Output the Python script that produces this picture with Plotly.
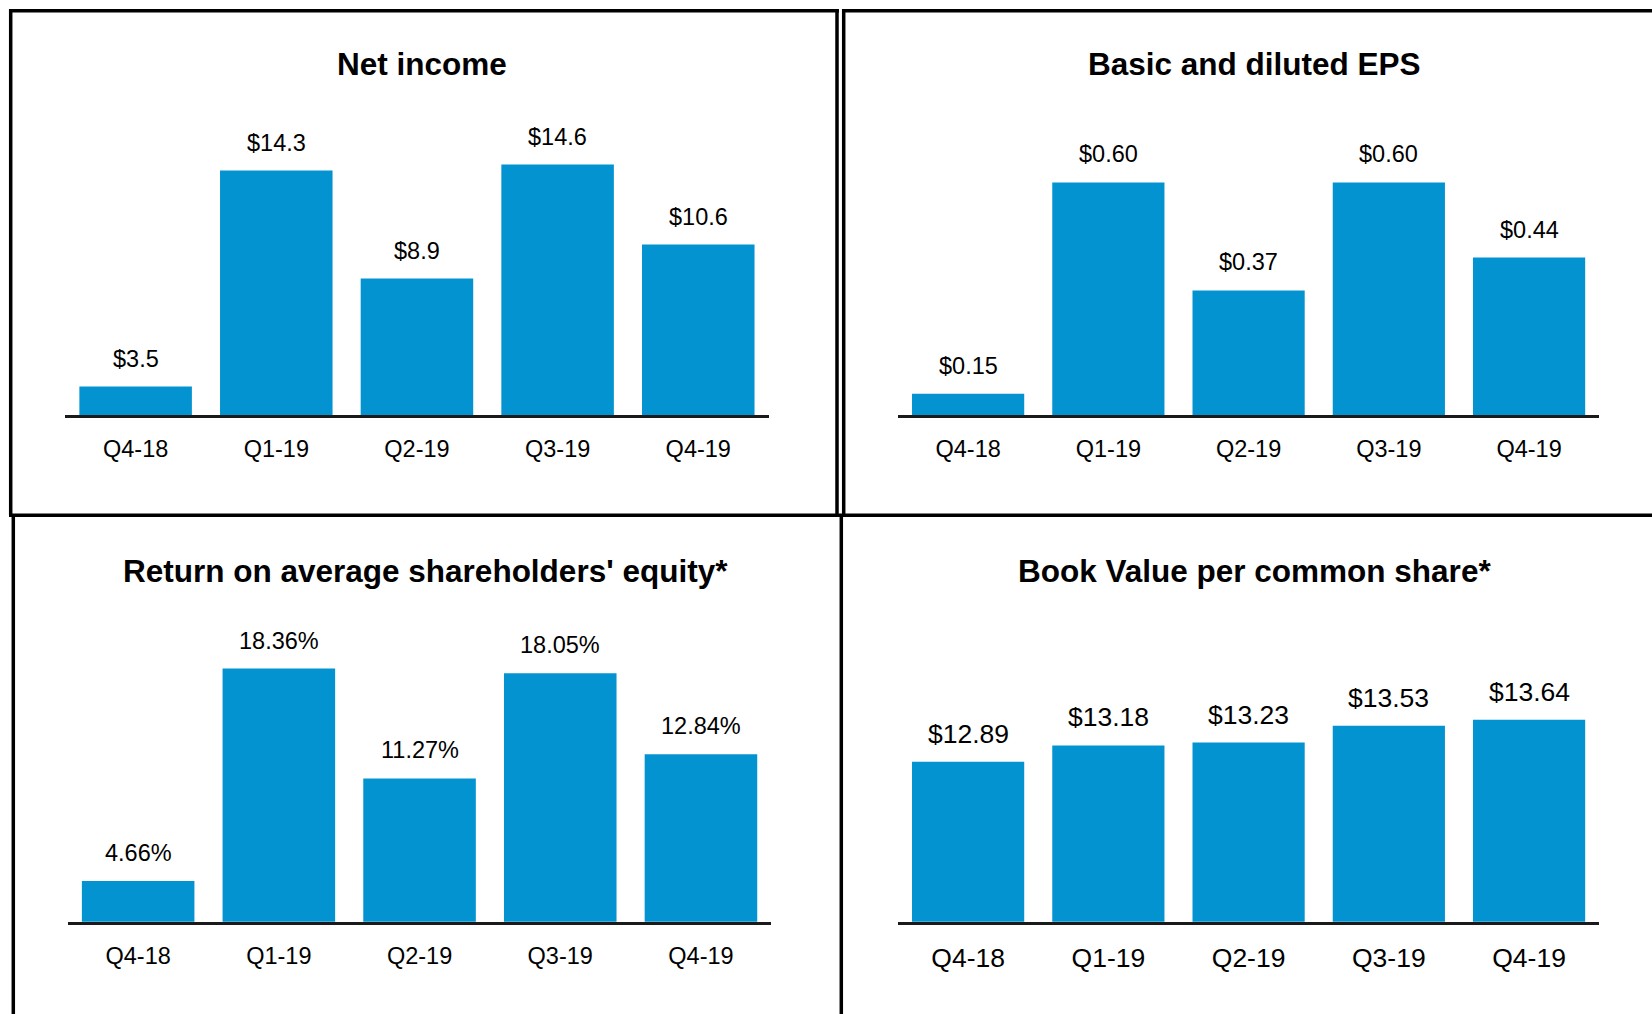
import plotly.graph_objects as go

W, H = 1652, 1014

# ---- data ----
categories = ["Q4-18", "Q1-19", "Q2-19", "Q3-19", "Q4-19"]
net_income = [3.5, 14.3, 8.9, 14.6, 10.6]
eps = [0.15, 0.60, 0.37, 0.60, 0.44]
roe = [4.66, 18.36, 11.27, 18.05, 12.84]
book_value = [12.89, 13.18, 13.23, 13.53, 13.64]
titles = ["Net income", "Basic and diluted EPS",
          "Return on average shareholders' equity*", "Book Value per common share*"]
formats = ["${:.1f}", "${:.2f}", "{:.2f}%", "${:.2f}"]
series = [net_income, eps, roe, book_value]

# ---- layout (pixel geometry of each panel) ----
FONT = "Liberation Sans, Arial, sans-serif"
BAR = "#0393D0"
geo = [
    dict(x0=65.3, x1=768.6, base=415.2, top=100, slope=20.0, y0=2.065,
         tx=421.5, ty=63.7, tick_fs=23.5, val_fs=23.5, yshift=13),
    dict(x0=898.0, x1=1599.2, base=415.2, top=100, slope=469.6, y0=0.1043,
         tx=1254.6, ty=63.7, tick_fs=23.5, val_fs=23.5, yshift=13),
    dict(x0=67.8, x1=771.3, base=921.8, top=610, slope=15.51, y0=2.03,
         tx=425.6, ty=570.5, tick_fs=23.5, val_fs=23.5, yshift=13),
    dict(x0=898.0, x1=1599.2, base=921.8, top=610, slope=56.0, y0=10.03,
         tx=1254.6, ty=570.5, tick_fs=26.5, val_fs=26.5, yshift=11),
]

fig = go.Figure()
annotations = []
for i, (vals, g) in enumerate(zip(series, geo)):
    n = i + 1
    xa = "x" if n == 1 else f"x{n}"
    ya = "y" if n == 1 else f"y{n}"
    fig.add_trace(go.Bar(x=categories, y=vals, xaxis=xa, yaxis=ya,
                         marker=dict(color=BAR, line=dict(width=0)),
                         showlegend=False, hoverinfo="skip"))
    ymax = g["y0"] + (g["base"] - g["top"]) / g["slope"]
    fig.update_layout(**{
        ("xaxis" if n == 1 else f"xaxis{n}"): dict(
            domain=[g["x0"] / W, g["x1"] / W], anchor=ya,
            showline=True, linecolor="#1a1a1a", linewidth=2.5,
            showgrid=False, zeroline=False, ticks="",
            ticklabelstandoff=11,
            tickfont=dict(family=FONT, size=g["tick_fs"], color="#000"),
            fixedrange=True),
        ("yaxis" if n == 1 else f"yaxis{n}"): dict(
            domain=[1 - g["base"] / H, 1 - g["top"] / H], anchor=xa,
            range=[g["y0"], ymax], visible=False, fixedrange=True),
    })
    for c, v in zip(categories, vals):
        annotations.append(dict(x=c, y=v, xref=xa, yref=ya, text=formats[i].format(v),
                                showarrow=False, yanchor="bottom", yshift=g["yshift"],
                                font=dict(family=FONT, size=g["val_fs"], color="#000")))
    annotations.append(dict(x=g["tx"] / W, y=1 - g["ty"] / H, xref="paper", yref="paper",
                            text=f"<b>{titles[i]}</b>", showarrow=False,
                            xanchor="center", yanchor="middle",
                            font=dict(family=FONT, size=31.5, color="#000")))

# ---- panel borders ----
def hline(y, xa, xb):
    return dict(type="line", xref="paper", yref="paper", x0=xa / W, x1=xb / W,
                y0=1 - y / H, y1=1 - y / H, line=dict(color="#000", width=3.5))

def vline(x, ya, yb):
    return dict(type="line", xref="paper", yref="paper", x0=x / W, x1=x / W,
                y0=1 - ya / H, y1=1 - yb / H, line=dict(color="#000", width=3.5))

shapes = [
    hline(10.7, 9, 839), vline(10.7, 9, 515), vline(837, 9, 515),
    hline(10.7, 842, W + 5), vline(843.7, 9, 515),
    hline(515.3, 9, W + 5),
    vline(13.3, 515, H + 5), vline(841.3, 515, H + 5),
]

fig.update_layout(
    width=W, height=H, autosize=False,
    margin=dict(l=0, r=0, t=0, b=0),
    paper_bgcolor="white", plot_bgcolor="white",
    bargap=0.2, annotations=annotations, shapes=shapes,
    font=dict(family=FONT, color="#000"),
)

fig.write_html("out.html", include_plotlyjs=True, config={"displayModeBar": False},
               post_script="document.body.style.margin='0';document.body.style.overflow='hidden';")
